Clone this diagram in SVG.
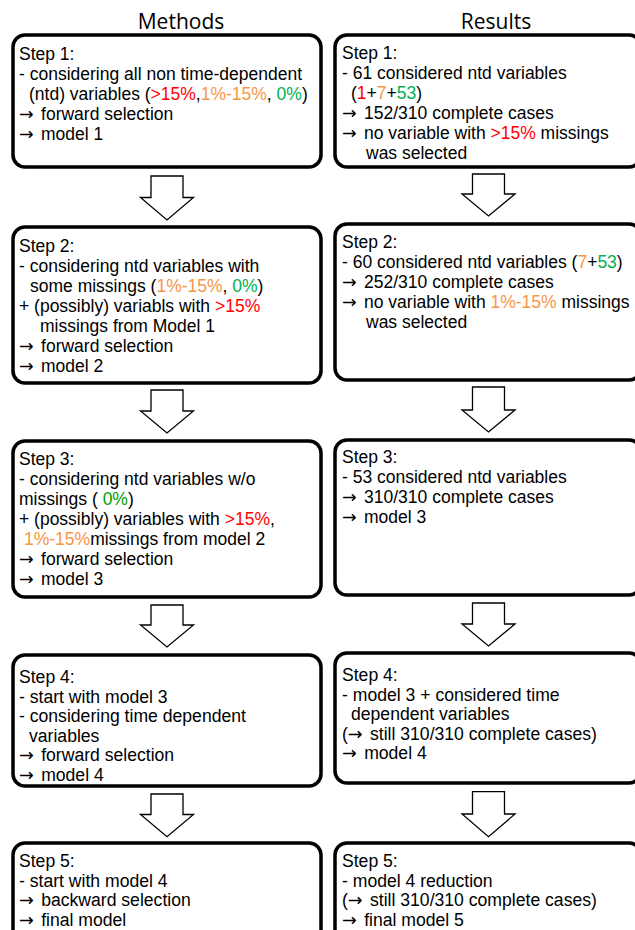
<svg xmlns="http://www.w3.org/2000/svg" width="635" height="930" viewBox="0 0 635 930">
<style>
.box{fill:#fff;stroke:#000;stroke-width:3.5}
.arr{fill:#fff;stroke:#000;stroke-width:1.3;stroke-linejoin:miter}
.t{font-family:"Liberation Sans",Arial,sans-serif;font-size:17.5px;fill:#000}
.s{font-family:"Liberation Sans",Arial,sans-serif;font-size:17.6px;fill:#000}
.a{font-family:"DejaVu Sans",sans-serif}
.h{font-family:"Open Sans","Noto Sans",sans-serif;font-size:21px;fill:#000;text-anchor:middle}
.r{fill:#FF0000}.o{fill:#F79646}.g{fill:#00B050}.g2{fill:#00A000}
</style>
<rect width="635" height="930" fill="#fff"/>
<text class="h" x="181" y="28.5">Methods</text>
<text class="h" x="496" y="29">Results</text>

<g id="connectors">
<polygon class="arr" points="151,176 183,176 183,197.5 193.5,197.5 167,220 140.5,197.5 151,197.5"/>
<polygon class="arr" points="151,390 183,390 183,411 193.5,411 167,433 140.5,411 151,411"/>
<polygon class="arr" points="151,605 183,605 183,625 193.5,625 167,647 140.5,625 151,625"/>
<polygon class="arr" points="151,794 183,794 183,814.5 193.5,814.5 167,836.7 140.5,814.5 151,814.5"/>
<polygon class="arr" points="472.5,174 504.5,174 504.5,194 515,194 488.5,216 462,194 472.5,194"/>
<polygon class="arr" points="472.5,387 504.5,387 504.5,410 515,410 488.5,432 462,410 472.5,410"/>
<polygon class="arr" points="472.5,603 504.5,603 504.5,624 515,624 488.5,646 462,624 472.5,624"/>
<polygon class="arr" points="472.5,791.7 504.5,791.7 504.5,814 515,814 488.5,836.7 462,814 472.5,814"/>
</g>

<g id="m1">
<rect class="box" x="13" y="35" width="308" height="132" rx="12"/>
<text class="t" x="19" y="59.5">Step 1:</text>
<text class="t" x="19" y="79.5">- considering all non time-dependent</text>
<text class="t" x="29" y="99.5">(ntd) variables (<tspan class="r">&gt;15%</tspan>,<tspan class="o">1%-15%</tspan>, <tspan class="g">0%</tspan>)</text>
<text class="t" x="19" y="119.5"><tspan class="a">→</tspan><tspan dx="2.5"> forward selection</tspan></text>
<text class="t" x="19" y="139.5"><tspan class="a">→</tspan><tspan dx="2.5"> model 1</tspan></text>
</g>

<g id="r1">
<rect class="box" x="335" y="35" width="306" height="132" rx="12"/>
<text class="t" x="342" y="59.3">Step 1:</text>
<text class="t" x="342" y="79.3">- 61 considered ntd variables</text>
<text class="t" x="351" y="99.3">(<tspan class="r">1</tspan>+<tspan class="o">7</tspan>+<tspan class="g">53</tspan>)</text>
<text class="t" x="342" y="119.3"><tspan class="a">→</tspan><tspan dx="2.5"> 152/310 complete cases</tspan></text>
<text class="t" x="342" y="139.3"><tspan class="a">→</tspan><tspan dx="2.5"> no variable with </tspan><tspan class="r">&gt;15%</tspan> missings</text>
<text class="t" x="366" y="159.3">was selected</text>
</g>

<g id="m2">
<rect class="box" x="13" y="227" width="308" height="156" rx="12"/>
<text class="t" x="19" y="251.7">Step 2:</text>
<text class="t" x="19" y="271.7">- considering ntd variables with</text>
<text class="t" x="30" y="291.7">some missings (<tspan class="o">1%-15%</tspan>, <tspan class="g">0%</tspan>)</text>
<text class="t" x="19" y="311.7">+ (possibly) variabls with <tspan class="r">&gt;15%</tspan></text>
<text class="t" x="40" y="331.7">missings from Model 1</text>
<text class="t" x="19" y="351.7"><tspan class="a">→</tspan><tspan dx="2.5"> forward selection</tspan></text>
<text class="t" x="19" y="371.7"><tspan class="a">→</tspan><tspan dx="2.5"> model 2</tspan></text>
</g>

<g id="r2">
<rect class="box" x="335" y="224" width="306" height="156" rx="12"/>
<text class="t" x="342" y="248.3">Step 2:</text>
<text class="t" x="342" y="268.3">- 60 considered ntd variables (<tspan class="o">7</tspan>+<tspan class="g">53</tspan>)</text>
<text class="t" x="342" y="288.3"><tspan class="a">→</tspan><tspan dx="2.5"> 252/310 complete cases</tspan></text>
<text class="t" x="342" y="308.3"><tspan class="a">→</tspan><tspan dx="2.5"> no variable with </tspan><tspan class="o">1%-15%</tspan> missings</text>
<text class="t" x="366" y="328.3">was selected</text>
</g>

<g id="m3">
<rect class="box" x="13" y="441" width="308" height="156" rx="12"/>
<text class="t" x="19" y="465">Step 3:</text>
<text class="t" x="19" y="485">- considering ntd variables w/o</text>
<text class="t" x="19" y="505">missings ( <tspan class="g2">0%</tspan>)</text>
<text class="t" x="19" y="525">+ (possibly) variables with <tspan class="r">&gt;15%</tspan>,</text>
<text class="t" x="24" y="545"><tspan class="o">1%-15%</tspan>missings from model 2</text>
<text class="t" x="19" y="565"><tspan class="a">→</tspan><tspan dx="2.5"> forward selection</tspan></text>
<text class="t" x="19" y="585"><tspan class="a">→</tspan><tspan dx="2.5"> model 3</tspan></text>
</g>

<g id="r3">
<rect class="box" x="335" y="440" width="306" height="155" rx="12"/>
<text class="t" x="342" y="463.3">Step 3:</text>
<text class="t" x="342" y="483.3">- 53 considered ntd variables</text>
<text class="t" x="342" y="503.3"><tspan class="a">→</tspan><tspan dx="2.5"> 310/310 complete cases</tspan></text>
<text class="t" x="342" y="523.3"><tspan class="a">→</tspan><tspan dx="2.5"> model 3</tspan></text>
</g>

<g id="m4">
<rect class="box" x="13" y="655" width="308" height="131" rx="12"/>
<text class="s" x="19" y="683">Step 4:</text>
<text class="s" x="19" y="702.5">- start with model 3</text>
<text class="s" x="19" y="722">- considering time dependent</text>
<text class="s" x="29" y="741.5">variables</text>
<text class="s" x="19" y="761"><tspan class="a">→</tspan><tspan dx="2.5"> forward selection</tspan></text>
<text class="s" x="19" y="780.5"><tspan class="a">→</tspan><tspan dx="2.5"> model 4</tspan></text>
</g>

<g id="r4">
<rect class="box" x="335" y="653" width="306" height="130" rx="12"/>
<text class="s" x="342" y="681">Step 4:</text>
<text class="s" x="342" y="700.5">- model 3 + considered time</text>
<text class="s" x="351" y="720">dependent variables</text>
<text class="s" x="342" y="739.5">(<tspan class="a">→</tspan><tspan dx="2.5"> still 310/310 complete cases)</tspan></text>
<text class="s" x="342" y="759"><tspan class="a">→</tspan><tspan dx="2.5"> model 4</tspan></text>
</g>

<g id="m5">
<rect class="box" x="13" y="843" width="308" height="130" rx="12"/>
<text class="s" x="19" y="867">Step 5:</text>
<text class="s" x="19" y="886.5">- start with model 4</text>
<text class="s" x="19" y="906"><tspan class="a">→</tspan><tspan dx="2.5"> backward selection</tspan></text>
<text class="s" x="19" y="925.5"><tspan class="a">→</tspan><tspan dx="2.5"> final model</tspan></text>
</g>

<g id="r5">
<rect class="box" x="335" y="843" width="306" height="130" rx="12"/>
<text class="s" x="342" y="867">Step 5:</text>
<text class="s" x="342" y="886.5">- model 4 reduction</text>
<text class="s" x="342" y="906">(<tspan class="a">→</tspan><tspan dx="2.5"> still 310/310 complete cases)</tspan></text>
<text class="s" x="342" y="925.5"><tspan class="a">→</tspan><tspan dx="2.5"> final model 5</tspan></text>
</g>
</svg>
